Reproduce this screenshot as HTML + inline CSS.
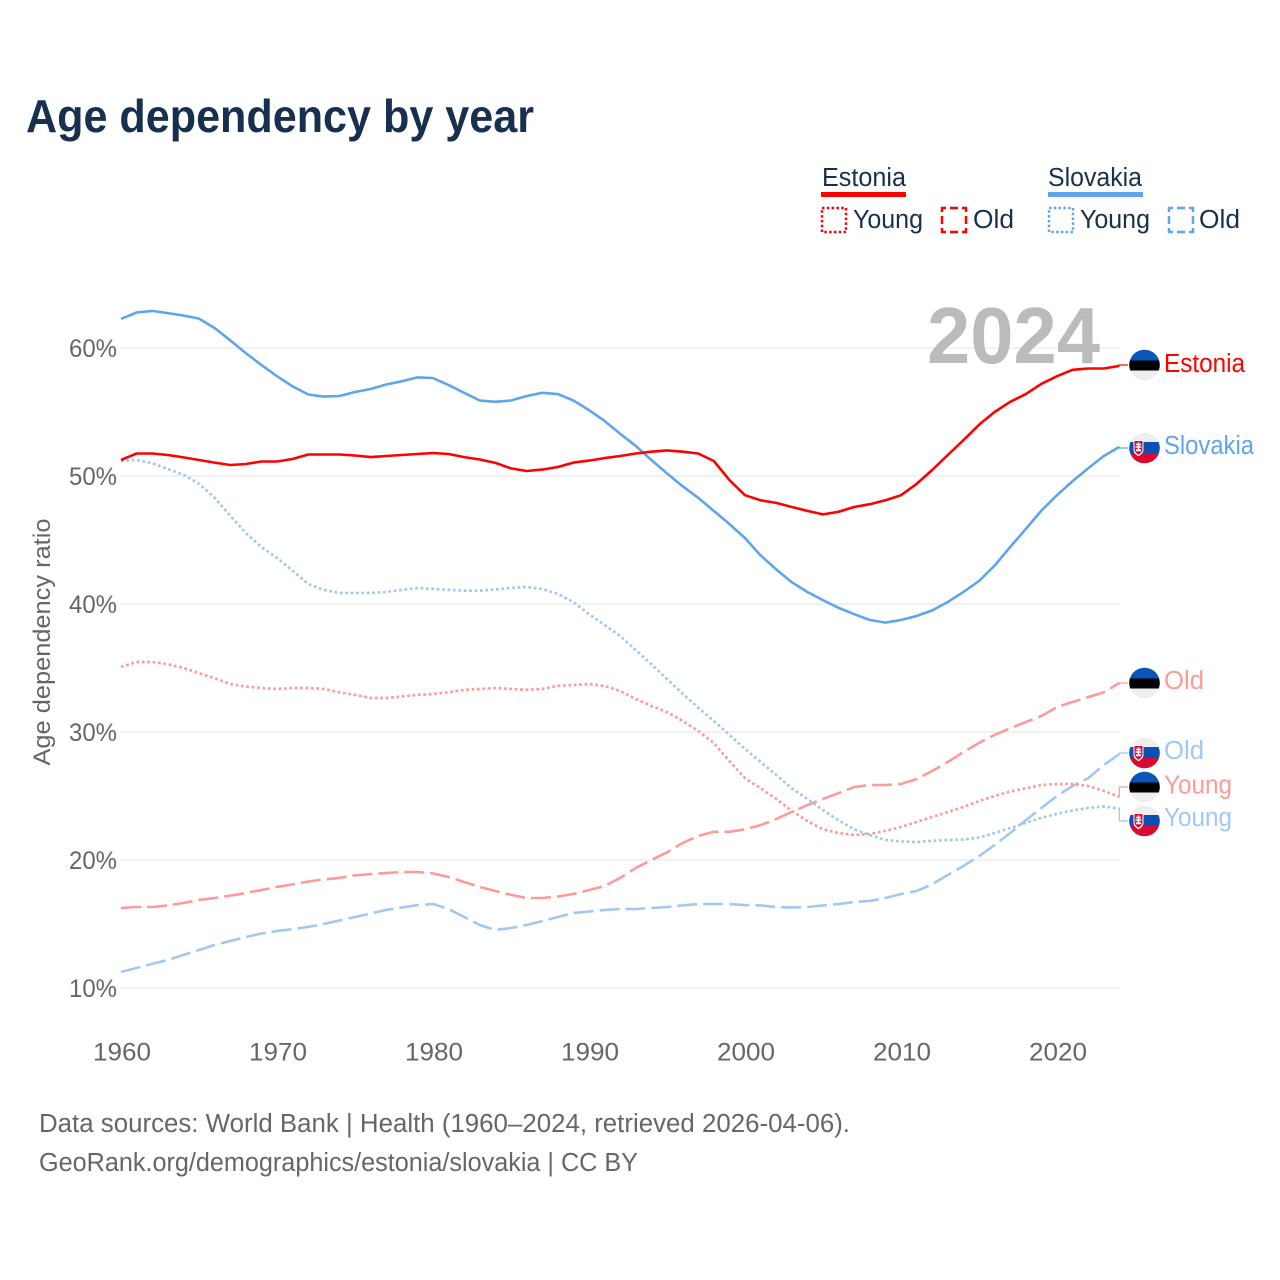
<!DOCTYPE html>
<html lang="en">
<head>
<meta charset="utf-8">
<title>Age dependency by year</title>
<style>
html,body{margin:0;padding:0;background:#fff;}
svg{display:block;font-family:"Liberation Sans",sans-serif;}
</style>
</head>
<body>
<svg id="chart" xmlns="http://www.w3.org/2000/svg" width="1280" height="1280" viewBox="0 0 1280 1280">
  <rect x="0" y="0" width="1280" height="1280" fill="#fff"/>
  <defs>
    <clipPath id="flag-clip"><circle cx="0" cy="0" r="15.3"/></clipPath>
    <g id="flag-ee" clip-path="url(#flag-clip)">
      <rect x="-16" y="-16" width="32" height="32" fill="#eeeeee"/>
      <rect x="-16" y="-16" width="32" height="12" fill="#0a56b8"/>
      <rect x="-16" y="-4.5" width="32" height="10" fill="#000"/>
    </g>
    <g id="flag-sk" clip-path="url(#flag-clip)">
      <rect x="-16" y="-16" width="32" height="32" fill="#eeeeee"/>
      <rect x="-16" y="-6" width="32" height="11" fill="#0a4fb5"/>
      <rect x="-16" y="5" width="32" height="11" fill="#d80a34"/>
      <path d="M-11,-8 H-1 V1.5 C-1,5.5 -4,7 -6,8.2 C-8,7 -11,5.5 -11,1.5 Z" fill="#fff"/>
      <path d="M-10,-7 H-2 V1.2 C-2,4 -4.4,5.6 -6,6.8 C-7.6,5.6 -10,4 -10,1.2 Z" fill="#d80a34"/>
      <path d="M-6.8,-5.8 H-5.2 V-4.2 H-3.4 V-2.8 H-5.2 V-1.6 H-3 V-0.2 H-5.2 V1.4 H-3.4 V3.2 H-8.6 V1.4 H-6.8 V-0.2 H-9 V-1.6 H-6.8 V-2.8 H-8.6 V-4.2 H-6.8 Z" fill="#fff"/>
    </g>
  </defs>

  <text x="26" y="132" font-size="46" font-weight="700" fill="#17304f" textLength="508" lengthAdjust="spacingAndGlyphs">Age dependency by year</text>

  <g font-size="25.5" fill="#17304f">
    <text x="822" y="186" textLength="84" lengthAdjust="spacingAndGlyphs">Estonia</text>
    <rect x="821" y="192" width="85" height="5" fill="#ff0000"/>
    <rect x="822" y="208" width="24" height="24" fill="none" stroke="#ff0000" stroke-width="2.5" stroke-dasharray="2.5 2.3"/>
    <text x="853" y="228" textLength="70" lengthAdjust="spacingAndGlyphs">Young</text>
    <rect x="942" y="208" width="24" height="24" fill="none" stroke="#ff0000" stroke-width="2.5" stroke-dasharray="8 4" stroke-dashoffset="4"/>
    <text x="973" y="228" textLength="41" lengthAdjust="spacingAndGlyphs">Old</text>
    <text x="1048" y="186" textLength="94" lengthAdjust="spacingAndGlyphs">Slovakia</text>
    <rect x="1048" y="192" width="95" height="5" fill="#5fa5ee"/>
    <rect x="1049" y="208" width="24" height="24" fill="none" stroke="#5fa5ee" stroke-width="2.5" stroke-dasharray="2.5 2.3"/>
    <text x="1080" y="228" textLength="70" lengthAdjust="spacingAndGlyphs">Young</text>
    <rect x="1169" y="208" width="24" height="24" fill="none" stroke="#5fa5ee" stroke-width="2.5" stroke-dasharray="8 4" stroke-dashoffset="4"/>
    <text x="1199" y="228" textLength="41" lengthAdjust="spacingAndGlyphs">Old</text>
  </g>

  <g id="grid"></g>
  <text x="927" y="363" font-size="80" font-weight="700" fill="#bbbbbb" textLength="173" lengthAdjust="spacingAndGlyphs">2024</text>
  <g id="yticks" font-size="25" fill="#666666"></g>
  <g id="xticks" font-size="25" fill="#666666"></g>
  <text transform="translate(50,642) rotate(-90)" text-anchor="middle" font-size="24.5" fill="#666666" textLength="247" lengthAdjust="spacingAndGlyphs">Age dependency ratio</text>

  <g id="series"></g>
  <g id="labels" font-size="25.5"></g>

  <g font-size="25.5" fill="#666666">
    <text x="39" y="1132" textLength="811" lengthAdjust="spacingAndGlyphs">Data sources: World Bank | Health (1960–2024, retrieved 2026-04-06).</text>
    <text x="39" y="1171" textLength="599" lengthAdjust="spacingAndGlyphs">GeoRank.org/demographics/estonia/slovakia | CC BY</text>
  </g>
</svg>
<script>
const years = [1960,1961,1962,1963,1964,1965,1966,1967,1968,1969,1970,1971,1972,1973,1974,1975,1976,1977,1978,1979,1980,1981,1982,1983,1984,1985,1986,1987,1988,1989,1990,1991,1992,1993,1994,1995,1996,1997,1998,1999,2000,2001,2002,2003,2004,2005,2006,2007,2008,2009,2010,2011,2012,2013,2014,2015,2016,2017,2018,2019,2020,2021,2022,2023,2024];
const estoniaTotal = [51.25,51.76,51.76,51.64,51.45,51.25,51.05,50.86,50.94,51.13,51.13,51.33,51.68,51.68,51.68,51.6,51.48,51.56,51.64,51.72,51.8,51.72,51.48,51.29,51.02,50.59,50.39,50.5,50.7,51.05,51.2,51.4,51.56,51.76,51.9,52.0,51.9,51.76,51.17,49.69,48.5,48.1,47.9,47.58,47.27,47.0,47.2,47.58,47.8,48.1,48.5,49.38,50.47,51.64,52.8,54.0,55.0,55.8,56.4,57.2,57.8,58.3,58.4,58.4,58.6];
const slovakiaTotal = [62.27,62.77,62.9,62.73,62.54,62.3,61.56,60.6,59.6,58.67,57.8,57.0,56.37,56.2,56.25,56.56,56.8,57.15,57.4,57.7,57.66,57.1,56.5,55.9,55.8,55.9,56.25,56.5,56.4,55.9,55.15,54.3,53.3,52.34,51.25,50.2,49.2,48.3,47.27,46.25,45.15,43.8,42.7,41.7,40.94,40.3,39.7,39.2,38.75,38.55,38.75,39.06,39.5,40.16,40.94,41.8,43.0,44.45,45.86,47.3,48.5,49.6,50.6,51.56,52.27];
const slovakiaYoung = [51.17,51.25,51.0,50.55,50.1,49.4,48.3,46.9,45.55,44.45,43.6,42.6,41.56,41.1,40.86,40.86,40.86,40.94,41.1,41.25,41.17,41.1,41.05,41.05,41.13,41.25,41.33,41.17,40.8,40.16,39.2,38.36,37.5,36.4,35.3,34.14,33.0,31.9,30.86,29.77,28.67,27.66,26.64,25.6,24.77,23.9,23.1,22.4,21.95,21.56,21.45,21.4,21.5,21.56,21.6,21.76,22.1,22.5,22.9,23.3,23.6,23.87,24.06,24.18,24.02];
const estoniaYoung = [35.08,35.47,35.47,35.3,35.0,34.6,34.2,33.75,33.55,33.44,33.36,33.44,33.44,33.36,33.1,32.9,32.66,32.66,32.77,32.9,32.97,33.1,33.3,33.36,33.44,33.36,33.3,33.36,33.6,33.67,33.75,33.6,33.2,32.58,32.03,31.56,30.86,30.08,29.14,27.73,26.4,25.6,24.77,23.83,23.05,22.4,22.1,21.95,22.03,22.27,22.58,22.97,23.36,23.75,24.14,24.6,25.0,25.35,25.6,25.86,25.94,25.94,25.78,25.4,24.92];
const estoniaOld = [16.25,16.33,16.33,16.45,16.64,16.88,17.03,17.22,17.42,17.66,17.9,18.09,18.32,18.48,18.6,18.8,18.9,18.98,19.06,19.06,18.95,18.67,18.28,17.9,17.58,17.27,17.03,17.03,17.15,17.34,17.66,17.97,18.6,19.38,20.0,20.6,21.33,21.88,22.2,22.2,22.4,22.73,23.2,23.75,24.3,24.77,25.23,25.7,25.86,25.86,25.94,26.33,26.95,27.66,28.44,29.14,29.77,30.3,30.78,31.25,31.95,32.34,32.73,33.1,33.83];
const slovakiaOld = [11.25,11.56,11.88,12.19,12.58,12.97,13.36,13.67,13.98,14.26,14.45,14.6,14.77,15.0,15.27,15.55,15.82,16.1,16.29,16.48,16.56,16.17,15.55,14.92,14.53,14.69,14.92,15.23,15.55,15.86,15.98,16.1,16.17,16.17,16.25,16.33,16.45,16.56,16.56,16.56,16.48,16.45,16.33,16.29,16.33,16.45,16.56,16.72,16.8,17.03,17.34,17.58,18.1,18.83,19.53,20.3,21.17,22.1,23.1,24.06,25.0,25.78,26.4,27.42,28.28];
const yTickValues = [10,20,30,40,50,60];
const xTickValues = [1960,1970,1980,1990,2000,2010,2020];

const NS = 'http://www.w3.org/2000/svg';
const xScale = function (year) { return 121 + (year - 1960) * 15.6; };
const yScale = function (value) { return 988 - (value - 10) * 12.8; };
const make = function (tag, parent) {
  const el = document.createElementNS(NS, tag);
  parent.appendChild(el);
  return el;
};
const gridGroup = document.getElementById('grid');
const yTickGroup = document.getElementById('yticks');
const xTickGroup = document.getElementById('xticks');
const seriesGroup = document.getElementById('series');
const labelGroup = document.getElementById('labels');

yTickValues.forEach(function (v) {
  const line = make('line', gridGroup);
  
  
  line.setAttribute('x1', 121);
  line.setAttribute('x2', 1120);
  line.setAttribute('y1', yScale(v));
  line.setAttribute('y2', yScale(v));
  line.setAttribute('stroke', '#e6e6e6');
  line.setAttribute('stroke-width', '1');
  const t = make('text', yTickGroup);
  
  
  t.setAttribute('x', 69);
  t.setAttribute('y', yScale(v) + 9);
  t.setAttribute('textLength', 48);
  t.setAttribute('lengthAdjust', 'spacingAndGlyphs');
  t.textContent = v + '%';
});

xTickValues.forEach(function (year) {
  const t = make('text', xTickGroup);
  
  
  t.setAttribute('x', xScale(year) + 1 - 29);
  t.setAttribute('y', 1060.5);
  t.setAttribute('textLength', 58);
  t.setAttribute('lengthAdjust', 'spacingAndGlyphs');
  t.textContent = String(year);
});

const drawSeries = function (el, values, color, width, dash) {
  el.setAttribute('points', values.map(function (v, i) {
    return xScale(years[i]).toFixed(1) + ',' + yScale(v).toFixed(1);
  }).join(' '));
  el.setAttribute('fill', 'none');
  el.setAttribute('stroke', color);
  el.setAttribute('stroke-width', width);
  el.setAttribute('stroke-linejoin', 'round');
  if (dash) { el.setAttribute('stroke-dasharray', dash); }
};

const lineEstoniaOld = make('polyline', seriesGroup);


drawSeries(lineEstoniaOld, estoniaOld, '#ff9a9a', 2.6, '20 6');

const lineSlovakiaOld = make('polyline', seriesGroup);


drawSeries(lineSlovakiaOld, slovakiaOld, '#a0c8f2', 2.6, '20 6');

const lineEstoniaYoung = make('polyline', seriesGroup);


drawSeries(lineEstoniaYoung, estoniaYoung, '#ff9a9a', 2.7, '2.7 2.7');

const lineSlovakiaYoung = make('polyline', seriesGroup);


drawSeries(lineSlovakiaYoung, slovakiaYoung, '#a0c8f2', 2.7, '2.7 2.7');

const lineSlovakia = make('polyline', seriesGroup);


drawSeries(lineSlovakia, slovakiaTotal, '#5fa5ee', 2.6, null);

const lineEstonia = make('polyline', seriesGroup);


drawSeries(lineEstonia, estoniaTotal, '#ff0000', 2.6, null);

const drawEndLabel = function (conn, flag, txt, values, flagId, labelY, textY, color, textWidth, label) {
  const endX = xScale(years[years.length - 1]);
  const endY = yScale(values[values.length - 1]);
  conn.setAttribute('points', endX.toFixed(1) + ',' + endY.toFixed(1) + ' ' + endX.toFixed(1) + ',' + labelY + ' 1128,' + labelY);
  conn.setAttribute('fill', 'none');
  conn.setAttribute('stroke', color);
  conn.setAttribute('stroke-width', '1.2');
  flag.setAttribute('href', '#' + flagId);
  flag.setAttribute('transform', 'translate(1144.5,' + labelY + ')');
  txt.setAttribute('x', 1164);
  txt.setAttribute('y', textY);
  txt.setAttribute('fill', color);
  txt.setAttribute('textLength', textWidth);
  txt.setAttribute('lengthAdjust', 'spacingAndGlyphs');
  txt.textContent = label;
};

const connA = make('polyline', labelGroup);


const flagA = make('use', labelGroup);


const textA = make('text', labelGroup);


drawEndLabel(connA, flagA, textA, estoniaTotal, 'flag-ee', 365, 372, '#ff0000', 81, 'Estonia');

const connB = make('polyline', labelGroup);


const flagB = make('use', labelGroup);


const textB = make('text', labelGroup);


drawEndLabel(connB, flagB, textB, slovakiaTotal, 'flag-sk', 448, 454, '#5fa5ee', 90, 'Slovakia');

const connC = make('polyline', labelGroup);


const flagC = make('use', labelGroup);


const textC = make('text', labelGroup);


drawEndLabel(connC, flagC, textC, estoniaOld, 'flag-ee', 683, 689, '#ff9a9a', 40, 'Old');

const connD = make('polyline', labelGroup);


const flagD = make('use', labelGroup);


const textD = make('text', labelGroup);


drawEndLabel(connD, flagD, textD, slovakiaOld, 'flag-sk', 753, 759, '#a0c8f2', 40, 'Old');

const connE = make('polyline', labelGroup);


const flagE = make('use', labelGroup);


const textE = make('text', labelGroup);


drawEndLabel(connE, flagE, textE, estoniaYoung, 'flag-ee', 787, 793.5, '#ff9a9a', 68, 'Young');

const connF = make('polyline', labelGroup);


const flagF = make('use', labelGroup);


const textF = make('text', labelGroup);


drawEndLabel(connF, flagF, textF, slovakiaYoung, 'flag-sk', 821, 826, '#a0c8f2', 68, 'Young');
</script>
</body>
</html>
